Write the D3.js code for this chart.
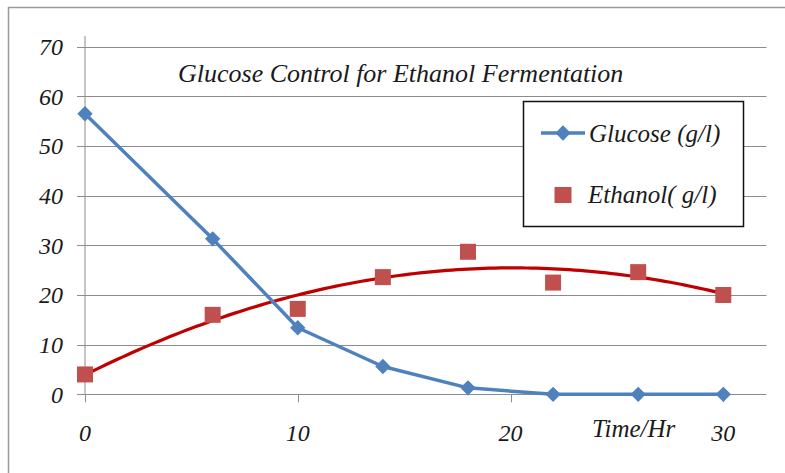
<!DOCTYPE html>
<html>
<head>
<meta charset="utf-8">
<script src="https://cdn.jsdelivr.net/npm/d3@7"></script>
<style>
  html, body { margin: 0; padding: 0; background: #fff; }
  svg { display: block; }
</style>
</head>
<body>
<svg id="chart" width="785" height="473"></svg>
<script>
// Fermentation run: sampling times (hr) and measured concentrations (g/l)
const timeHr = [0, 6, 10, 14, 18, 22, 26, 30];
const glucose = [56.5, 31.3, 13.4, 5.6, 1.3, 0, 0, 0];
const ethanol = [4.0, 16.0, 17.2, 23.6, 28.7, 22.5, 24.6, 20.0];
const yTicks = [0, 10, 20, 30, 40, 50, 60, 70];
const xTicks = [0, 10, 20, 30];
const titleText = "Glucose Control for Ethanol Fermentation";
const legendLabels = ["Glucose (g/l)", "Ethanol( g/l)"];
const xAxisLabel = "Time/Hr";

const svg = d3.select("#chart");
const blue = "#4F81BD", red = "#C0504D", trendRed = "#C00000", grid = "#8c8c8c";

// Serif italic text
function label(sel) {
  return sel.attr("font-style", "italic").style("font-family", '"Liberation Serif"')
    .attr("fill", "#1a1a1a");
}

// Outer chart frame
svg.append("rect").attr("x", 8.5).attr("y", 7.5).attr("width", 800).attr("height", 500)
  .attr("fill", "none").attr("stroke", "#9a9a9a").attr("stroke-width", 1.5);

const x = d3.scaleLinear().domain([0, 30]).range([85, 723.3]);
const y = d3.scaleLinear().domain([0, 70]).range([394.3, 46.7]);
const plotRight = 766.5;

// Horizontal gridlines with left ticks
svg.append("g").selectAll("line").data(yTicks).join("line")
  .attr("x1", 77).attr("x2", plotRight)
  .attr("y1", d => Math.round(y(d)) + 0.5).attr("y2", d => Math.round(y(d)) + 0.5)
  .attr("stroke", grid).attr("stroke-width", 1);

// Vertical axis line
svg.append("line").attr("x1", x(0)).attr("x2", x(0)).attr("y1", 36).attr("y2", y(0))
  .attr("stroke", grid).attr("stroke-width", 1);

// Bottom ticks
svg.append("g").selectAll("line").data(xTicks).join("line")
  .attr("x1", d => Math.round(x(d)) + 0.5).attr("x2", d => Math.round(x(d)) + 0.5)
  .attr("y1", y(0)).attr("y2", y(0) + 8)
  .attr("stroke", grid).attr("stroke-width", 1);

// Y tick labels
svg.append("g").selectAll("text").data(yTicks).join("text")
  .attr("x", 63).attr("y", d => y(d)).attr("dy", "0.35em")
  .attr("text-anchor", "end").attr("font-size", 24)
  .call(label)
  .text(d => d);

// X tick labels
svg.append("g").selectAll("text").data(xTicks).join("text")
  .attr("x", d => x(d)).attr("y", 441)
  .attr("text-anchor", "middle").attr("font-size", 24)
  .call(label)
  .text(d => d);

svg.append("text").attr("x", 592).attr("y", 437).attr("font-size", 25).call(label).text(xAxisLabel);

// Title
svg.append("text").attr("x", 178).attr("y", 82).attr("font-size", 26).call(label).text(titleText);

// Quadratic least-squares trendline through the ethanol measurements
function polyFit2(xs, ys) {
  const S = k => d3.sum(xs, v => Math.pow(v, k));
  const T = k => d3.sum(xs, (v, i) => Math.pow(v, k) * ys[i]);
  const A = [[S(0), S(1), S(2)], [S(1), S(2), S(3)], [S(2), S(3), S(4)]];
  const b = [T(0), T(1), T(2)];
  for (let i = 0; i < 3; i++) {
    for (let j = i + 1; j < 3; j++) {
      const f = A[j][i] / A[i][i];
      for (let k = i; k < 3; k++) A[j][k] -= f * A[i][k];
      b[j] -= f * b[i];
    }
  }
  const c = [0, 0, 0];
  for (let i = 2; i >= 0; i--) {
    let s = b[i];
    for (let k = i + 1; k < 3; k++) s -= A[i][k] * c[k];
    c[i] = s / A[i][i];
  }
  return t => c[0] + c[1] * t + c[2] * t * t;
}
const trend = polyFit2(timeHr, ethanol);
const trendPts = d3.range(0, 30.01, 0.25).map(t => [t, trend(t)]);
svg.append("path").datum(trendPts)
  .attr("fill", "none").attr("stroke", trendRed).attr("stroke-width", 3.2)
  .attr("d", d3.line().x(d => x(d[0])).y(d => y(d[1])));

// Ethanol markers
svg.append("g").selectAll("rect").data(timeHr).join("rect")
  .attr("x", d => x(d) - 8).attr("y", (d, i) => y(ethanol[i]) - 8)
  .attr("width", 16).attr("height", 16).attr("fill", red);

// Glucose line and diamond markers
const gPts = timeHr.map((t, i) => [t, glucose[i]]);
svg.append("path").datum(gPts)
  .attr("fill", "none").attr("stroke", blue).attr("stroke-width", 3.5).attr("stroke-linejoin", "round")
  .attr("d", d3.line().x(d => x(d[0])).y(d => y(d[1])));
const diamond = d3.symbol().type(d3.symbolDiamond2).size(150);
svg.append("g").selectAll("path").data(gPts).join("path")
  .attr("transform", d => `translate(${x(d[0])},${y(d[1])})`)
  .attr("d", diamond).attr("fill", blue);

// Legend
const lg = svg.append("g");
lg.append("rect").attr("x", 523.5).attr("y", 101.5).attr("width", 220).attr("height", 125)
  .attr("fill", "#fff").attr("stroke", "#111").attr("stroke-width", 1.5);
lg.append("line").attr("x1", 541).attr("x2", 585).attr("y1", 133).attr("y2", 133)
  .attr("stroke", blue).attr("stroke-width", 3.5);
lg.append("path").attr("transform", "translate(563,133)").attr("d", diamond).attr("fill", blue);
lg.append("text").attr("x", 589).attr("y", 142).attr("font-size", 25).call(label).text(legendLabels[0]);
lg.append("rect").attr("x", 554.5).attr("y", 187).attr("width", 17).attr("height", 16).attr("fill", red);
lg.append("text").attr("x", 588).attr("y", 203).attr("font-size", 25).call(label).text(legendLabels[1]);
</script>
</body>
</html>
